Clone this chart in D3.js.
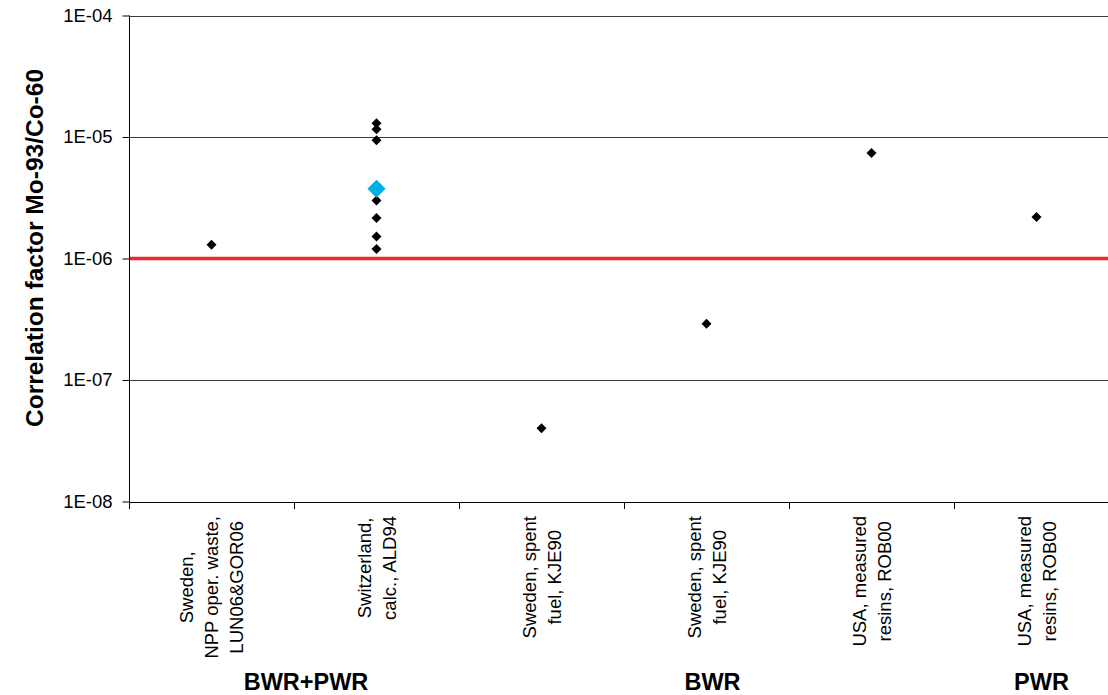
<!DOCTYPE html>
<html>
<head>
<meta charset="utf-8">
<script src="https://cdn.jsdelivr.net/npm/d3@7"></script>
<style>
  html, body { margin: 0; padding: 0; background: #fff; }
  svg { display: block; font-family: "Liberation Sans", Arial, sans-serif; }
</style>
</head>
<body>
<svg id="chart" width="1108" height="695"></svg>
<script>
// ---- data ----
const categories = ["c1", "c2", "c3", "c4", "c5", "c6"];
const categoryLabels = [
  ["Sweden,", "NPP oper. waste,", "LUN06&GOR06"],
  ["Switzerland,", "calc., ALD94"],
  ["Sweden, spent", "fuel, KJE90"],
  ["Sweden, spent", "fuel, KJE90"],
  ["USA, measured", "resins, ROB00"],
  ["USA, measured", "resins, ROB00"]
];
const groupLabels = ["BWR+PWR", "BWR", "PWR"];
const pointCategory = ["c1", "c2", "c2", "c2", "c2", "c2", "c2", "c2", "c3", "c4", "c5", "c6"];
const pointValue = [1.3e-6, 1.30e-5, 1.16e-5, 9.4e-6, 3.0e-6, 2.15e-6, 1.52e-6, 1.2e-6, 4.0e-8, 2.9e-7, 7.4e-6, 2.2e-6];
const meanCategory = ["c2"];
const meanValue = [3.75e-6];
const referenceValue = [1e-6];
const yTicks = [1e-8, 1e-7, 1e-6, 1e-5, 1e-4];

// ---- layout ----
const svg = d3.select("#chart");
const mLeft = 129, mRight = 1119, mTop = 15.5, mBottom = 501.5;

const x = d3.scaleBand().domain(categories).range([mLeft, mRight]).padding(0);
const y = d3.scaleLog().domain([1e-8, 1e-4]).range([mBottom, mTop]);

const fmt = d => {
  const e = Math.round(Math.log10(d));
  return "1E" + (e < 0 ? "-" : "+") + String(Math.abs(e)).padStart(2, "0");
};

// gridlines
svg.append("g")
  .selectAll("line")
  .data(yTicks.filter(d => d > 1e-8))
  .join("line")
  .attr("x1", mLeft).attr("x2", mRight)
  .attr("y1", d => Math.round(y(d)) + 0.5).attr("y2", d => Math.round(y(d)) + 0.5)
  .attr("stroke", "#3a3a3a").attr("stroke-width", 1);

// y axis
const yAxis = d3.axisLeft(y).tickValues(yTicks).tickFormat(fmt).tickSize(7).tickPadding(10);
const gy = svg.append("g").attr("transform", `translate(${mLeft + 0.5},0)`).call(yAxis);
gy.select(".domain").attr("stroke", "#000").attr("d", `M0,${mTop}V${mBottom + 0.5}`);
gy.selectAll(".tick line").attr("stroke", "#000");
gy.selectAll(".tick text").attr("font-size", 18.5).attr("fill", "#000")
  .attr("font-family", "Liberation Sans, Arial, sans-serif");

// x axis (category boundaries)
const boundaries = categories.map(c => x(c)).concat([x(categories[categories.length - 1]) + x.bandwidth()]);
const gx = svg.append("g");
gx.append("line").attr("x1", mLeft).attr("x2", mRight)
  .attr("y1", Math.round(mBottom) + 0.5).attr("y2", Math.round(mBottom) + 0.5)
  .attr("stroke", "#000");
gx.selectAll("line.tk").data(boundaries).join("line").attr("class", "tk")
  .attr("x1", d => Math.round(d) + 0.5).attr("x2", d => Math.round(d) + 0.5)
  .attr("y1", Math.round(mBottom)).attr("y2", Math.round(mBottom) + 7)
  .attr("stroke", "#000");

// reference line
svg.append("g").selectAll("line").data(referenceValue).join("line")
  .attr("x1", mLeft + 1).attr("x2", mRight)
  .attr("y1", d => y(d)).attr("y2", d => y(d))
  .attr("stroke", "#E8292F").attr("stroke-width", 3.5);

// category labels (rotated, multiline, centered)
const fs = 18.5, lineH = 25, cap = 0.716 * fs, labelTop = 516;
categories.forEach((c, i) => {
  const lines = categoryLabels[i];
  const cx = x(c) + x.bandwidth() / 2;
  const g = svg.append("g");
  const texts = lines.map(t => g.append("text").attr("font-size", fs).attr("fill", "#000")
    .attr("text-anchor", "middle").text(t));
  const maxLen = d3.max(texts, t => t.node().getComputedTextLength());
  const width = (lines.length - 1) * lineH + cap;
  const firstBase = cx - width / 2 + cap;
  const cy = labelTop + maxLen / 2;
  texts.forEach((t, j) => {
    const bx = firstBase + j * lineH;
    t.attr("transform", `translate(${bx},${cy}) rotate(-90)`);
  });
});

// group labels
const groupX = [
  (x("c1") + x("c2") + x.bandwidth()) / 2 + 12,
  x("c4") + x.bandwidth() / 2 + 6,
  x("c6") + x.bandwidth() / 2 + 5
];
svg.append("g").selectAll("text").data(groupLabels).join("text")
  .attr("x", (d, i) => groupX[i]).attr("y", 690)
  .attr("text-anchor", "middle").attr("font-size", 23.5).attr("font-weight", "bold")
  .attr("fill", "#000").text(d => d);

// y axis title
svg.append("text")
  .attr("transform", `translate(43,248) rotate(-90)`)
  .attr("text-anchor", "middle").attr("font-size", 24.5).attr("font-weight", "bold")
  .attr("fill", "#000").text("Correlation factor Mo-93/Co-60");

// points
const diamond = d3.symbol().type(d3.symbolSquare);
svg.append("g").selectAll("path").data(pointValue).join("path")
  .attr("d", diamond.size(50)())
  .attr("transform", (d, i) => `translate(${x(pointCategory[i]) + x.bandwidth() / 2},${y(d)}) rotate(45)`)
  .attr("fill", "#000");

svg.append("g").selectAll("path").data(meanValue).join("path")
  .attr("d", d3.symbol().type(d3.symbolSquare).size(165)())
  .attr("transform", (d, i) => `translate(${x(meanCategory[i]) + x.bandwidth() / 2},${y(d)}) rotate(45)`)
  .attr("fill", "#00AEE6");
</script>
</body>
</html>
